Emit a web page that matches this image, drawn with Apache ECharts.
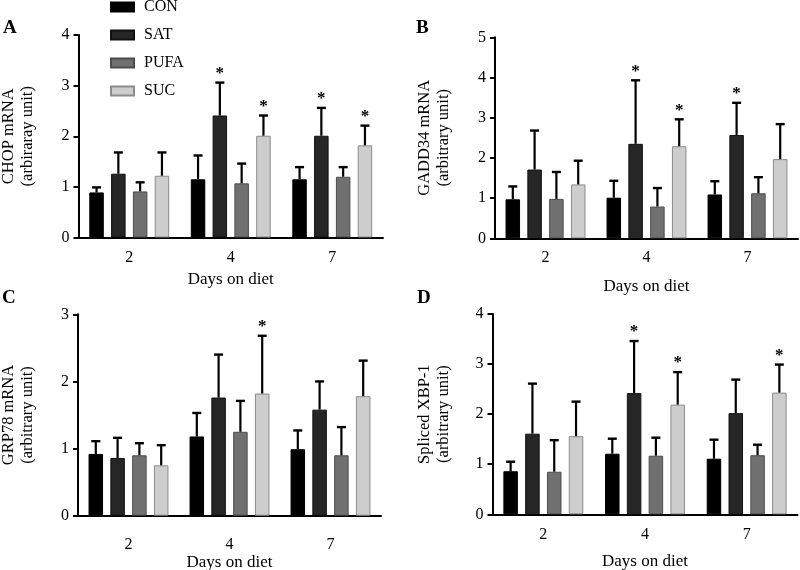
<!DOCTYPE html>
<html><head><meta charset="utf-8">
<script src="https://cdn.jsdelivr.net/npm/echarts@6/dist/echarts.min.js"></script>
<style>html,body{margin:0;padding:0;background:#fff}#c{width:800px;height:570px}</style>
</head><body><div id="c"></div>
<script>
// ---------- data ----------
const categories = ['2', '4', '7'];
const groups = ['CON', 'SAT', 'PUFA', 'SUC'];
const panelLetters = ['A', 'B', 'C', 'D'];
const yNames = ['CHOP mRNA\n(arbiraray unit)', 'GADD34 mRNA\n(arbitrary unit)', 'GRP78 mRNA\n(arbitrary unit)', 'Spliced XBP-1\n(arbitrary unit)'];
const xName = 'Days on diet';
const yMax = [4, 5, 3, 4];

// rows: CON, SAT, PUFA, SUC ; columns: day 2, 4, 7
const chopMean = [[0.89, 1.15, 1.15], [1.26, 2.41, 2.01], [0.91, 1.07, 1.20], [1.22, 2.01, 1.82]];
const chopSD   = [[0.10, 0.47, 0.24], [0.42, 0.65, 0.55], [0.18, 0.39, 0.19], [0.46, 0.40, 0.39]];
const chopStar = [[0, 0, 0], [0, 1, 1], [0, 0, 0], [0, 1, 1]];

const gaddMean = [[0.97, 1.01, 1.09], [1.71, 2.35, 2.57], [0.98, 0.79, 1.12], [1.34, 2.29, 1.97]];
const gaddSD   = [[0.32, 0.42, 0.33], [0.97, 1.58, 0.80], [0.67, 0.46, 0.40], [0.59, 0.67, 0.87]];
const gaddStar = [[0, 0, 0], [0, 1, 1], [0, 0, 0], [0, 1, 0]];

const grpMean = [[0.92, 1.18, 0.99], [0.86, 1.76, 1.58], [0.90, 1.25, 0.90], [0.75, 1.82, 1.78]];
const grpSD   = [[0.19, 0.35, 0.28], [0.30, 0.64, 0.42], [0.18, 0.46, 0.42], [0.30, 0.86, 0.53]];
const grpStar = [[0, 0, 0], [0, 0, 0], [0, 0, 0], [0, 1, 0]];

const xbpMean = [[0.86, 1.21, 1.11], [1.61, 2.42, 2.02], [0.85, 1.17, 1.18], [1.56, 2.19, 2.43]];
const xbpSD   = [[0.19, 0.30, 0.38], [1.00, 1.04, 0.67], [0.63, 0.36, 0.21], [0.69, 0.65, 0.56]];
const xbpStar = [[0, 0, 0], [0, 1, 0], [0, 0, 0], [0, 1, 1]];

const panelMeans = [chopMean, gaddMean, grpMean, xbpMean];
const panelSDs = [chopSD, gaddSD, grpSD, xbpSD];
const panelStars = [chopStar, gaddStar, grpStar, xbpStar];

// ---------- styles / layout ----------
const FONT = '"Liberation Serif", "Times New Roman", serif';
const colors = ['#000000', '#262626', '#707070', '#cdcdcd'];
const borders = ['#000000', '#111111', '#4d4d4d', '#8c8c8c'];
const BAR_W = 14.5, BAR_GAP = 7.3, SPACING = BAR_W + BAR_GAP;

const grids = [
  {left: 78.5, top: 35, width: 304.5, height: 202.5, outerBoundsMode: 'none', containLabel: false},
  {left: 495, top: 37.3, width: 303, height: 201, outerBoundsMode: 'none', containLabel: false},
  {left: 78, top: 314.3, width: 303, height: 201.4, outerBoundsMode: 'none', containLabel: false},
  {left: 492.5, top: 314, width: 305, height: 200.3, outerBoundsMode: 'none', containLabel: false}
];
const xLabelMargin = [12, 11, 21, 12];
const xNameGap = [34, 40, 38, 39];
const yNameGap = [41, 42, 41, 39];
const letterPos = [[3, 28], [416, 28], [2, 298], [417, 298]];

const chart = echarts.init(document.getElementById('c'), null, {renderer: 'canvas'});

const xAxes = [], yAxes = [], series = [], graphics = [];
grids.forEach((g, p) => {
  xAxes.push({
    gridIndex: p, type: 'category', data: categories,
    axisLine: {lineStyle: {color: '#000', width: 2}},
    axisTick: {alignWithLabel: true, length: 5, lineStyle: {color: '#000', width: 2}},
    axisLabel: {margin: xLabelMargin[p], fontSize: 16, fontFamily: FONT, color: '#000'},
    name: xName, nameLocation: 'middle', nameGap: xNameGap[p], nameMoveOverlap: false,
    nameTextStyle: {fontSize: 17, fontFamily: FONT, color: '#000'}
  });
  yAxes.push({
    gridIndex: p, type: 'value', min: 0, max: yMax[p], interval: 1,
    splitLine: {show: false},
    axisLine: {show: true, lineStyle: {color: '#000', width: 2}},
    axisTick: {show: true, length: 5, lineStyle: {color: '#000', width: 2}},
    axisLabel: {margin: 9, fontSize: 16, fontFamily: FONT, color: '#000'},
    name: yNames[p], nameLocation: 'middle', nameRotate: 90, nameGap: yNameGap[p], nameMoveOverlap: false,
    nameTextStyle: {fontSize: 16.5, lineHeight: 19, fontFamily: FONT, color: '#000'}
  });
  const means = panelMeans[p], sds = panelSDs[p], stars = panelStars[p];
  groups.forEach((name, si) => {
    series.push({
      name: name, type: 'bar', xAxisIndex: p, yAxisIndex: p,
      data: means[si], barWidth: BAR_W, barGap: (BAR_GAP / BAR_W * 100) + '%',
      itemStyle: {color: colors[si], borderColor: borders[si], borderWidth: 1},
      emphasis: {disabled: true}, animation: false
    });
  });
  const errData = [];
  groups.forEach((name, si) => {
    categories.forEach((c, ci) => {
      errData.push([ci, si, means[si][ci], sds[si][ci], stars[si][ci]]);
    });
  });
  series.push({
    name: 'err' + p, type: 'custom', xAxisIndex: p, yAxisIndex: p,
    data: errData, encode: {x: 0, y: 2}, z: 5, animation: false, silent: true,
    renderItem: function (params, api) {
      const ci = api.value(0), si = api.value(1), m = api.value(2), sd = api.value(3), st = api.value(4);
      const base = api.coord([ci, m]);
      const top = api.coord([ci, m + sd]);
      const x = base[0] + (si - 1.5) * SPACING;
      const children = [
        {type: 'line', shape: {x1: x, y1: base[1], x2: x, y2: top[1]}, style: {stroke: '#000', lineWidth: 2.2}},
        {type: 'line', shape: {x1: x - 4.5, y1: top[1], x2: x + 4.5, y2: top[1]}, style: {stroke: '#000', lineWidth: 2.4}}
      ];
      if (st) {
        children.push({type: 'text', x: x, y: top[1] - 9,
          style: {text: '*', font: 'bold 17px ' + FONT, align: 'center', verticalAlign: 'middle', fill: '#000'}});
      }
      return {type: 'group', children: children};
    }
  });
  graphics.push({type: 'text', x: letterPos[p][0], y: letterPos[p][1],
    style: {text: panelLetters[p], font: 'bold 19px ' + FONT, fill: '#000', textAlign: 'left', textVerticalAlign: 'middle'}});
});

chart.setOption({
  backgroundColor: '#fff',
  animation: false,
  grid: grids,
  xAxis: xAxes,
  yAxis: yAxes,
  legend: {
    data: groups, orient: 'vertical', left: 105, top: -6, padding: 5,
    itemWidth: 23, itemHeight: 9, itemGap: 12, icon: 'rect',
    textStyle: {fontFamily: FONT, fontSize: 16, color: '#000', lineHeight: 16, padding: [0, 0, 0, 5]}
  },
  graphic: graphics,
  series: series
});
</script>
</body></html>
